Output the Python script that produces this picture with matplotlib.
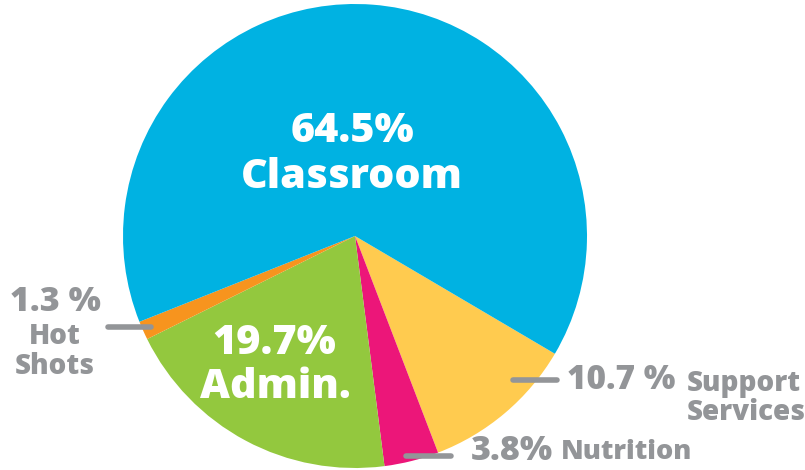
import matplotlib.pyplot as plt

# Доли бюджета, по часовой стрелке от границы Classroom / Support Services
categories = ["Support Services", "Nutrition", "Admin.", "Hot Shots", "Classroom"]
shares = [10.7, 3.8, 19.7, 1.3, 64.5]
colors = ["#FFCB4F", "#EC1679", "#93C83E", "#F7941E", "#00B2E2"]
gray = "#939598"

plt.rcParams["font.family"] = ["Open Sans", "DejaVu Sans"]

W, H = 805, 470
fig = plt.figure(figsize=(W / 100, H / 100), dpi=100)
ax = fig.add_axes([0, 0, 1, 1])


def Y(py):
    # пиксельная координата сверху -> координата осей снизу
    return H - py


ax.pie(shares, colors=colors, startangle=-30.5, counterclock=False,
       center=(355, Y(236)), radius=232, frame=True,
       wedgeprops=dict(linewidth=0))
ax.set_xlim(0, W)
ax.set_ylim(0, H)
ax.set_aspect("equal")
ax.axis("off")

white = dict(color="white", fontweight=800, fontsize=29.7,
             ha="center", va="center")
ax.text(352, Y(132), "64.5%", **white)
ax.text(352, Y(178), "Classroom", **white)
ax.text(274, Y(343), "19.7%", **white)
ax.text(275, Y(388), "Admin.", **white)

g = dict(color=gray, fontweight=800, va="center")
# Hot Shots
ax.text(55, Y(302), "1.3 %", fontsize=24.5, ha="center", **g)
ax.text(55, Y(337), "Hot", fontsize=20, ha="center", **g)
ax.text(55, Y(366), "Shots", fontsize=20, ha="center", **g)
ax.plot([108, 151], [Y(327), Y(327)], color=gray, lw=4, solid_capstyle="round")
# Support Services
ax.text(567, Y(380), "10.7 %", fontsize=24, ha="left", **g)
ax.text(687, Y(383), "Support", fontsize=20, ha="left", **g)
ax.text(687, Y(413), "Services", fontsize=20, ha="left", **g)
ax.plot([513, 557], [Y(380), Y(380)], color=gray, lw=4, solid_capstyle="round")
# Nutrition
ax.text(471, Y(451), "3.8%", fontsize=24.5, ha="left", **g)
ax.text(561, Y(452), "Nutrition", fontsize=19.5, ha="left", **g)
ax.plot([406, 451], [Y(456), Y(456)], color=gray, lw=4, solid_capstyle="round")

fig.savefig("out.png", dpi=100)
